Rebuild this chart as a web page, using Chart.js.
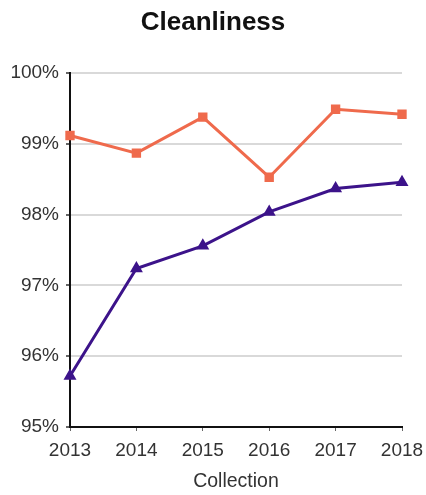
<!DOCTYPE html>
<html>
<head>
<meta charset="utf-8">
<script src="https://cdn.jsdelivr.net/npm/chart.js@4"></script>
<style>
  html, body { margin: 0; padding: 0; background: #fff; }
  #wrap { width: 426px; height: 495px; }
</style>
</head>
<body>
<div id="wrap"><canvas id="cleanCanvas"></canvas></div>
<script>
// years on the x axis
const years = ["2013", "2014", "2015", "2016", "2017", "2018"];

// the two series, in percent
const orangeVals = [99.12, 98.87, 99.38, 98.53, 99.49, 99.42];
const purpleVals = [95.72, 97.24, 97.56, 98.04, 98.37, 98.46];

// y axis range
const yMin = 95;
const yMax = 100;

const canvas = document.getElementById("cleanCanvas");
const chart = new Chart(canvas, {
    type: "line",
    data: {
        labels: years,
        datasets: [{
            data: orangeVals,
            borderColor: "#ef6a4c",
            backgroundColor: "#ef6a4c",
            borderWidth: 3,
            pointStyle: "rect",
            pointRadius: 4.5,
            tension: 0,
            clip: false
        }, {
            data: purpleVals,
            borderColor: "#3c138a",
            backgroundColor: "#3c138a",
            borderWidth: 3,
            pointStyle: "triangle",
            pointRadius: 4.5,
            tension: 0,
            clip: false
        }]
    },
    options: {
        responsive: true,
        maintainAspectRatio: false,
        animation: false,
        layout: {
            padding: 0
        },
        plugins: {
            legend: { display: false },
            tooltip: { enabled: false },
            title: {
                display: true,
                text: "Cleanliness",
                color: "#111",
                font: { family: "Liberation Sans", size: 26, weight: "bold" },
                padding: { top: 7, bottom: 35 }
            }
        },
        scales: {
            x: {
                offset: false,
                grid: {
                    drawOnChartArea: false,
                    tickLength: 4,
                    tickColor: "#666"
                },
                border: { color: "#111", width: 2 },
                ticks: {
                    color: "#333",
                    padding: 8,
                    maxRotation: 0,
                    font: { family: "Liberation Sans", size: 19 }
                },
                title: {
                    display: true,
                    text: "Collection",
                    color: "#333",
                    font: { family: "Liberation Sans", size: 19.5 },
                    padding: { top: 0, bottom: 2 }
                },
                afterFit: function (scale) {
                    scale.height = 68;
                    // fixed room on the right for the 2018 label
                    scale.paddingRight = 24;
                }
            },
            y: {
                min: yMin,
                max: yMax,
                grid: {
                    color: "#d9d9d9",
                    lineWidth: 2,
                    tickLength: 4,
                    tickColor: "#666"
                },
                border: { color: "#111", width: 2 },
                ticks: {
                    stepSize: 1,
                    color: "#333",
                    padding: 7,
                    font: { family: "Liberation Sans", size: 19 },
                    callback: function (v) { return v + "%"; }
                },
                afterFit: function (scale) { scale.width = 70; }
            }
        }
    }
});
</script>
</body>
</html>
